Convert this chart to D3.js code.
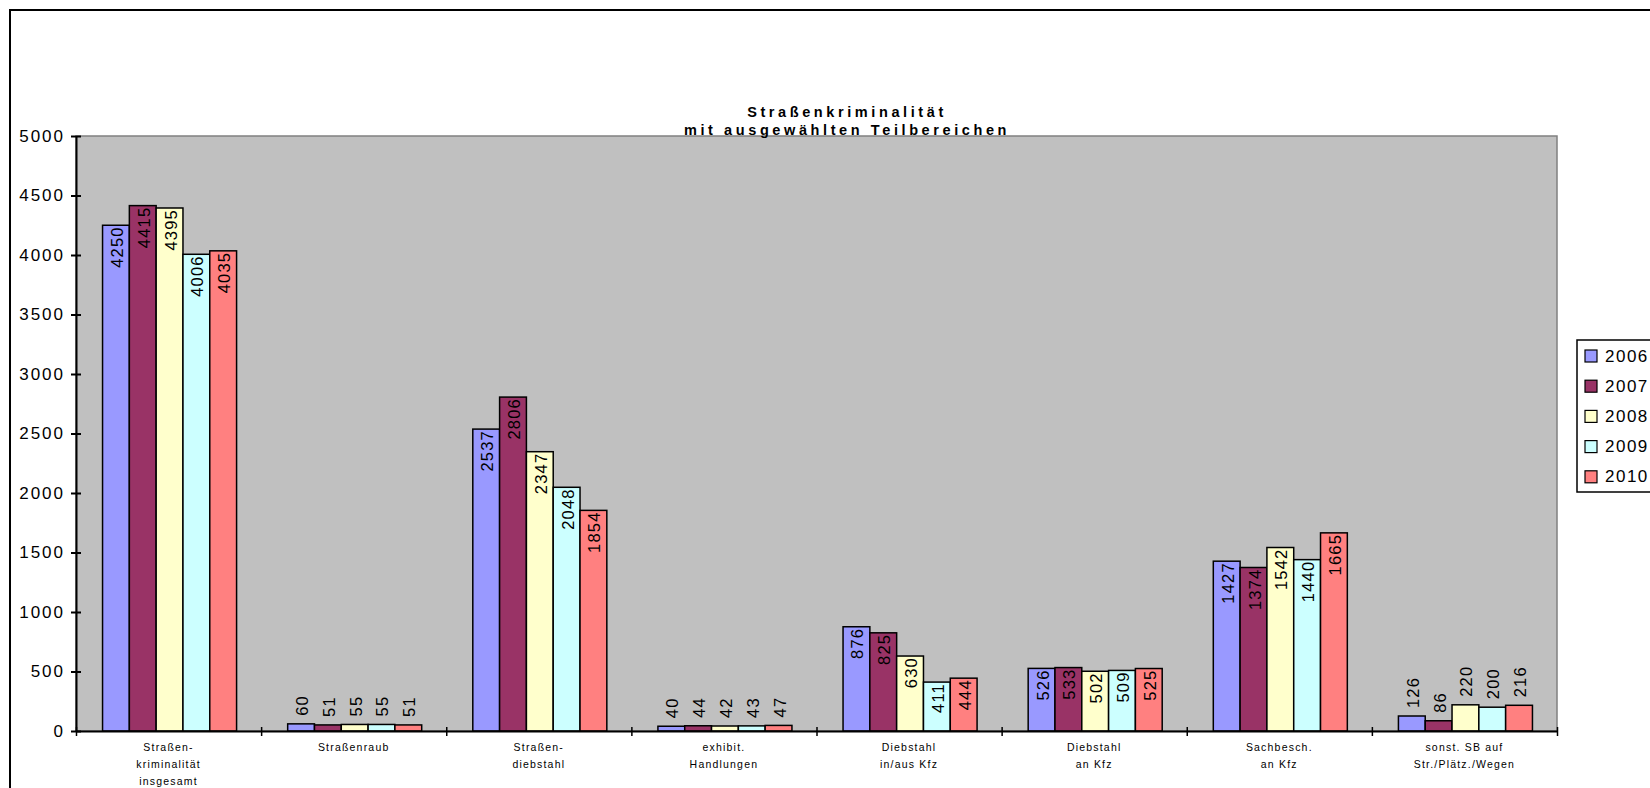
<!DOCTYPE html>
<html>
<head>
<meta charset="utf-8">
<script src="https://cdn.jsdelivr.net/npm/d3@7"></script>
<style>
  body { margin: 0; background: #fff; }
  svg { display: block; font-family: "Liberation Sans", Arial, sans-serif; }
</style>
</head>
<body>
<div id="chart"></div>
<script>
var categories = [
    ["Straßen-", "kriminalität", "insgesamt"],
    ["Straßenraub"],
    ["Straßen-", "diebstahl"],
    ["exhibit.", "Handlungen"],
    ["Diebstahl", "in/aus Kfz"],
    ["Diebstahl", "an Kfz"],
    ["Sachbesch.", "an Kfz"],
    ["sonst. SB auf", "Str./Plätz./Wegen"]
];
var years = ["2006", "2007", "2008", "2009", "2010"];
var v2006 = [4250, 60, 2537, 40, 876, 526, 1427, 126];
var v2007 = [4415, 51, 2806, 44, 825, 533, 1374, 86];
var v2008 = [4395, 55, 2347, 42, 630, 502, 1542, 220];
var v2009 = [4006, 55, 2048, 43, 411, 509, 1440, 200];
var v2010 = [4035, 51, 1854, 47, 444, 525, 1665, 216];
var yTicks = [0, 500, 1000, 1500, 2000, 2500, 3000, 3500, 4000, 4500, 5000];
var colors = ["#9999FF", "#993366", "#FFFFCC", "#CCFFFF", "#FF8080"];

var series = [v2006, v2007, v2008, v2009, v2010];

var W = 1650, H = 788;
var plot = { left: 76, right: 1557, top: 136, bottom: 731 };

var svg = d3.select("#chart").append("svg")
    .attr("width", W)
    .attr("height", H);

// outer chart frame (runs past the right and bottom edge)
svg.append("rect")
    .attr("x", 10).attr("y", 10)
    .attr("width", W + 20).attr("height", H + 20)
    .attr("fill", "#fff")
    .attr("stroke", "#000")
    .attr("stroke-width", 2);

// plot area
svg.append("rect")
    .attr("x", plot.left).attr("y", plot.top)
    .attr("width", plot.right - plot.left)
    .attr("height", plot.bottom - plot.top)
    .attr("fill", "#C0C0C0")
    .attr("stroke", "#808080")
    .attr("stroke-width", 1.5);

var catIdx = d3.range(categories.length);

var x0 = d3.scaleBand()
    .domain(catIdx)
    .range([plot.left, plot.right]);

var groupW = x0.bandwidth() * 0.724;
var shift = 1;
var x1 = d3.scaleBand()
    .domain(years)
    .range([(x0.bandwidth() - groupW) / 2 + shift, (x0.bandwidth() + groupW) / 2 + shift]);

var y = d3.scaleLinear()
    .domain([0, 5000])
    .range([plot.bottom, plot.top]);

function rows(i) {
    return years.map(function(yr, k) { return { year: yr, k: k, value: series[k][i] }; });
}

// bars
var groups = svg.append("g")
    .selectAll("g")
    .data(catIdx)
    .enter()
    .append("g")
    .attr("transform", function(i) { return "translate(" + x0(i) + ",0)"; });

groups.selectAll("rect")
    .data(rows)
    .enter()
    .append("rect")
    .attr("x", function(d) { return x1(d.year); })
    .attr("y", function(d) { return y(d.value); })
    .attr("width", x1.bandwidth())
    .attr("height", function(d) { return plot.bottom - y(d.value); })
    .attr("fill", function(d) { return colors[d.k]; })
    .attr("stroke", "#000")
    .attr("stroke-width", 1.5);

// value labels, rotated: inside end, or above the bar when it is short
var minInside = 46;
groups.selectAll("text.val")
    .data(rows)
    .enter()
    .append("text")
    .attr("class", "val")
    .attr("font-size", 16.5)
    .attr("letter-spacing", 1.2)
    .attr("fill", "#000")
    .attr("dominant-baseline", "central")
    .attr("text-anchor", function(d) { return (plot.bottom - y(d.value)) > minInside ? "end" : "start"; })
    .attr("transform", function(d) {
        var cx = x1(d.year) + x1.bandwidth() / 2 + 1;
        var h = plot.bottom - y(d.value);
        var ty = h > minInside ? y(d.value) + 1 : y(d.value) - 8;
        return "translate(" + cx + "," + ty + ") rotate(-90)";
    })
    .text(function(d) { return d.value; });

// y axis (ticks cross the axis line)
var yAxis = d3.axisLeft(y)
    .tickValues(yTicks)
    .tickFormat(d3.format("d"))
    .tickSize(5)
    .tickSizeOuter(0)
    .tickPadding(6);

var yg = svg.append("g")
    .attr("transform", "translate(" + plot.left + ",0)")
    .call(yAxis);
yg.select(".domain").attr("stroke", "#000").attr("stroke-width", 2);
yg.selectAll(".tick line").attr("x1", 5).attr("stroke", "#000").attr("stroke-width", 2);
yg.selectAll(".tick text")
    .attr("font-size", 17)
    .attr("letter-spacing", 2)
    .attr("fill", "#000")
    .attr("font-family", "Liberation Sans, Arial, sans-serif");

// x axis line with category boundary ticks
var xb = d3.scaleLinear().domain([0, categories.length]).range([plot.left, plot.right]);
var xAxis = d3.axisBottom(xb)
    .tickValues(d3.range(categories.length + 1))
    .tickSize(5)
    .tickSizeOuter(0)
    .tickFormat("");
var xg = svg.append("g")
    .attr("transform", "translate(0," + plot.bottom + ")")
    .call(xAxis);
xg.select(".domain").attr("stroke", "#000").attr("stroke-width", 2);
xg.selectAll(".tick line").attr("y1", -4).attr("stroke", "#000").attr("stroke-width", 1.5);

// category labels
svg.append("g")
    .selectAll("text")
    .data(catIdx)
    .enter()
    .append("text")
    .attr("text-anchor", "middle")
    .attr("font-size", 10.5)
    .attr("letter-spacing", 1.2)
    .attr("fill", "#000")
    .attr("x", function(i) { return x0(i) + x0.bandwidth() / 2; })
    .attr("y", plot.bottom + 20)
    .each(function(i) {
        var t = d3.select(this);
        categories[i].forEach(function(line, j) {
            t.append("tspan")
                .attr("x", x0(i) + x0.bandwidth() / 2)
                .attr("dy", j === 0 ? 0 : 17)
                .text(line);
        });
    });

// title
var titleX = 847;
var title = svg.append("text")
    .attr("text-anchor", "middle")
    .attr("font-size", 14.5)
    .attr("font-weight", "bold")
    .attr("letter-spacing", 3.6)
    .attr("fill", "#000")
    .attr("x", titleX)
    .attr("y", 117);
title.append("tspan").attr("x", titleX).text("Straßenkriminalität");
title.append("tspan").attr("x", titleX).attr("dy", 18).text("mit ausgewählten Teilbereichen");

// legend
var legend = svg.append("g").attr("transform", "translate(1577,340)");
legend.append("rect")
    .attr("x", 0).attr("y", 0)
    .attr("width", 100).attr("height", 152)
    .attr("fill", "#fff")
    .attr("stroke", "#000")
    .attr("stroke-width", 1.5);

var items = legend.selectAll("g.item")
    .data(years)
    .enter()
    .append("g")
    .attr("class", "item")
    .attr("transform", function(d, k) { return "translate(0," + (16 + k * 30.2) + ")"; });
items.append("rect")
    .attr("x", 8).attr("y", -6)
    .attr("width", 12).attr("height", 12)
    .attr("fill", function(d, k) { return colors[k]; })
    .attr("stroke", "#000")
    .attr("stroke-width", 1.2);
items.append("text")
    .attr("x", 28)
    .attr("dominant-baseline", "central")
    .attr("font-size", 17)
    .attr("letter-spacing", 1.5)
    .attr("fill", "#000")
    .text(function(d) { return d; });
</script>
</body>
</html>
